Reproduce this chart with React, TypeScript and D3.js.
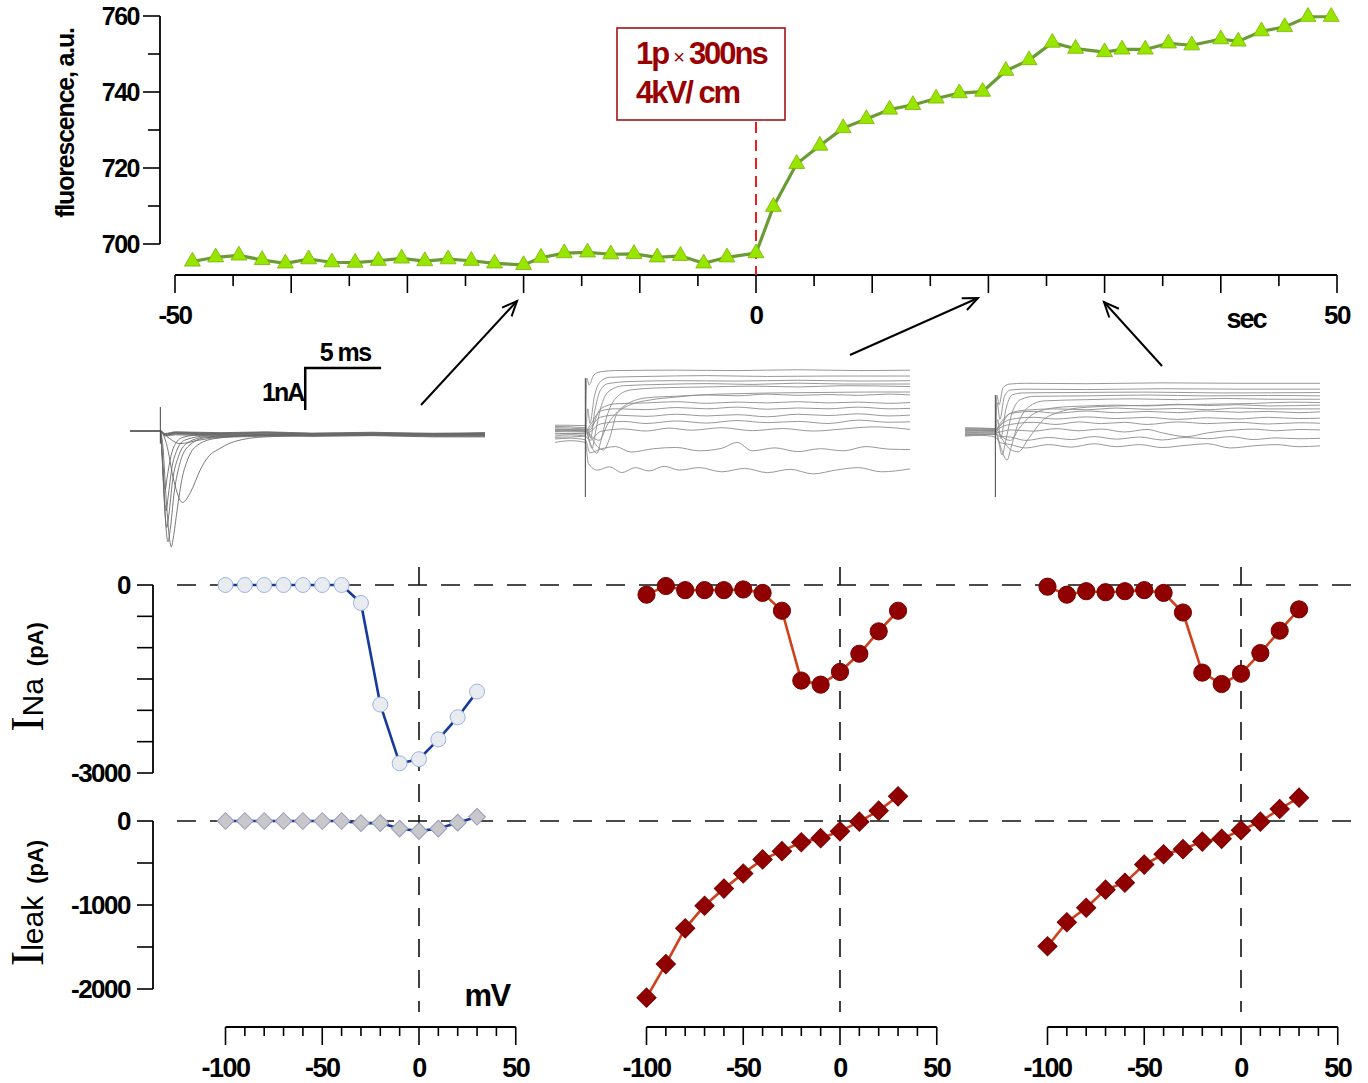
import React from 'react';
import * as d3 from 'd3';

// ---- top panel: fluorescence vs time ----
const fluoTime = [
  -48.5, -46.5, -44.5, -42.5, -40.5, -38.5, -36.5, -34.5, -32.5, -30.5, -28.5, -26.5, -24.5, -22.5,
  -20, -18.5, -16.5, -14.5, -12.5, -10.5, -8.5, -6.5, -4.5, -2.5, 0,
  1.5, 3.5, 5.5, 7.5, 9.5, 11.5, 13.5, 15.5, 17.5, 19.5, 21.5, 23.5, 25.5, 27.5,
  30, 31.5, 33.5, 35.5, 37.5, 40, 41.5, 43.5, 45.5, 47.5, 49.5,
];
const fluoValue = [
  695.4, 696.5, 697.0, 695.8, 694.9, 696.0, 695.2, 695.1, 695.6, 696.2, 695.5, 696.0, 695.6, 694.9,
  694.5, 696.4, 697.6, 697.8, 697.3, 697.4, 696.5, 696.9, 694.9, 696.5, 697.6,
  709.8, 721.1, 725.9, 730.5, 732.9, 735.4, 736.6, 738.3, 739.7, 740.1, 745.6, 748.4, 753.0, 751.4,
  750.5, 751.2, 751.2, 752.8, 752.3, 753.9, 753.3, 756.0, 757.1, 759.8, 759.8,
];
const fluoYTicks = [700, 710, 720, 730, 740, 750, 760];
const fluoYLabels = [700, 720, 740, 760];
const fluoXTicks = [-50, -45, -40, -35, -30, -25, -20, -15, -10, -5, 0, 5, 10, 15, 20, 25, 30, 35, 40, 45, 50];
const fluoXLabels = [-50, 0, 50];

// ---- I-V panels ----
const voltages = [-100, -90, -80, -70, -60, -50, -40, -30, -20, -10, 0, 10, 20, 30];
const inaControl = [0, 0, 0, 0, 0, 0, 0, -286, -1908, -2845, -2780, -2464, -2110, -1701];
const leakControl = [0, 0, 0, 0, 0, 0, 0, -25, -25, -90, -120, -90, -20, 50];
const inaAfter20 = [-154, -16, -82, -82, -82, -71, -126, -411, -1525, -1590, -1387, -1097, -740, -411];
const leakAfter20 = [-2103, -1703, -1278, -1009, -805, -625, -457, -359, -253, -204, -123, -8, 123, 294];
const inaAfter30 = [-27, -154, -99, -115, -99, -82, -126, -439, -1398, -1580, -1415, -1086, -729, -389];
const leakAfter30 = [-1491, -1205, -1033, -817, -735, -519, -396, -335, -245, -212, -110, -8, 143, 278];
const ivXTicks = [-100, -90, -80, -70, -60, -50, -40, -30, -20, -10, 0, 10, 20, 30, 40, 50];
const ivXLabels = [-100, -50, 0, 50];
const inaYTicks = [0, -500, -1000, -1500, -2000, -2500, -3000];
const inaYLabels = [0, -3000];
const leakYTicks = [0, -500, -1000, -1500, -2000];
const leakYLabels = [0, -1000, -2000];

// ---- current sweeps, [ms, nA] ----
type Pt = [number, number];
const sweepsControl: Pt[][] = [
  [[-2, 0.01], [0, 0.01], [0.3, -0.06], [1, -0.02], [4, -0.04], [7, -0.02], [10, -0.05], [14, -0.03], [18, -0.06], [21.4, -0.04]],
  [[-2, 0], [0, 0], [0.3, -0.08], [1, -0.04], [4, -0.06], [7, -0.05], [10, -0.07], [14, -0.05], [18, -0.08], [21.4, -0.07]],
  [[-2, -0.01], [0, -0.01], [0.3, -0.1], [1, -0.06], [4, -0.08], [7, -0.07], [10, -0.1], [14, -0.08], [18, -0.1], [21.4, -0.1]],
  [[-2, 0], [0, 0], [0.3, -0.1], [1, -0.07], [4, -0.1], [7, -0.09], [10, -0.11], [14, -0.1], [18, -0.13], [21.4, -0.12]],
  [[-2, 0.01], [0, 0.01], [0.3, -0.09], [1, -0.05], [4, -0.07], [7, -0.04], [10, -0.08], [14, -0.06], [18, -0.09], [21.4, -0.08]],
  [[-2, 0], [0, 0], [0.3, -0.07], [1, -0.03], [4, -0.05], [7, -0.03], [10, -0.06], [14, -0.04], [18, -0.07], [21.4, -0.05]],
  [[-2, 0], [0, 0], [0.3, -0.12], [1, -0.09], [4, -0.12], [7, -0.1], [10, -0.13], [14, -0.11], [18, -0.14], [21.4, -0.14]],
  [[-2, 0], [0, 0], [0.5, -0.15], [1.3, -0.3], [2.5, -0.22], [4, -0.15], [8, -0.12], [14, -0.1], [21.4, -0.12]],
  [[-2, 0], [0, 0], [0.4, -0.3], [0.9, -1.2], [1.46, -1.7], [2.0, -1.45], [2.6, -0.95], [3.0, -0.69], [4.0, -0.4], [4.9, -0.25], [6.9, -0.14], [12, -0.1], [21.4, -0.1]],
  [[-2, 0], [0, 0], [0.15, -0.3], [0.4, -1.7], [0.6, -2.55], [0.72, -2.76], [0.85, -2.55], [1.1, -1.9], [1.45, -1.1], [1.75, -0.73], [2.3, -0.38], [3.6, -0.18], [6.6, -0.1], [21.4, -0.08]],
  [[-2, 0], [0, 0], [0.12, -0.5], [0.3, -1.9], [0.5, -2.64], [0.65, -2.35], [0.9, -1.5], [1.32, -0.73], [1.8, -0.38], [3, -0.16], [8, -0.1], [21.4, -0.08]],
  [[-2, 0], [0, 0], [0.1, -0.5], [0.25, -1.6], [0.42, -2.3], [0.56, -2.0], [0.8, -1.2], [1.2, -0.6], [1.8, -0.28], [3, -0.14], [8, -0.08], [21.4, -0.07]],
  [[-2, 0], [0, 0], [0.1, -0.5], [0.22, -1.3], [0.38, -1.9], [0.52, -1.55], [0.75, -0.9], [1.1, -0.45], [1.6, -0.22], [3, -0.12], [21.4, -0.06]],
  [[-2, 0], [0, 0], [0.1, -0.4], [0.2, -1.0], [0.32, -1.4], [0.45, -1.1], [0.7, -0.6], [1.0, -0.3], [1.5, -0.15], [3, -0.08], [21.4, -0.05]],
];
const sweepsAfter20: Pt[][] = [
  [[-2, -0.2], [-1, -0.16], [0, -0.2], [0.2, -0.7], [0.8, -0.86], [1.6, -0.78], [2.4, -0.92], [3.3, -0.8], [4.2, -0.88], [5.2, -0.77], [6.2, -0.86], [7.5, -0.8], [9, -0.9], [10.5, -0.82], [12, -0.92], [13.5, -0.84], [15, -0.95], [16.5, -0.86], [18, -0.8], [19.5, -0.9], [21.4, -0.83]],
  [[-2, -0.12], [-1, -0.1], [0, -0.14], [0.3, -0.45], [1, -0.36], [2, -0.3], [3, -0.43], [4.5, -0.35], [6, -0.32], [7.5, -0.4], [9, -0.34], [10, -0.2], [11, -0.4], [12.5, -0.33], [14, -0.42], [15.5, -0.35], [17, -0.4], [18.5, -0.3], [20, -0.36], [21.4, -0.37]],
  [[-2, -0.05], [-1, -0.02], [0, -0.05], [0.3, -0.15], [1, 0.06], [2.5, 0.12], [4, 0.07], [5.5, 0.14], [7, 0.09], [9, 0.15], [11, 0.08], [13, 0.13], [15, 0.07], [17, 0.12], [19, 0.17], [21.4, 0.11]],
  [[-2, 0.02], [0, 0.0], [0.3, 0.05], [1, 0.24], [2.5, 0.3], [4, 0.25], [6, 0.31], [8, 0.26], [10, 0.32], [12, 0.27], [14, 0.3], [16, 0.25], [18, 0.33], [20, 0.28], [21.4, 0.29]],
  [[-2, 0.06], [0, 0.05], [0.3, 0.15], [1, 0.4], [2, 0.45], [4, 0.42], [6, 0.47], [8, 0.43], [10, 0.46], [12, 0.41], [14, 0.47], [16, 0.44], [18, 0.48], [20, 0.43], [21.4, 0.45]],
  [[-2, 0.1], [0, 0.08], [0.3, 0.2], [1, 0.55], [2, 0.6], [4, 0.58], [6, 0.63], [8, 0.6], [10, 0.64], [12, 0.59], [14, 0.62], [16, 0.6], [18, 0.64], [20, 0.6], [21.4, 0.61]],
  [[-2, 0.12], [0, 0.1], [0.3, 0.1], [1, 0.6], [2, 0.72], [4, 0.74], [6, 0.77], [8, 0.73], [10, 0.76], [12, 0.74], [14, 0.77], [16, 0.74], [18, 0.76], [20, 0.73], [21.4, 0.75]],
  [[-2, 0.15], [0, 0.12], [0.4, -0.05], [0.9, -0.15], [1.5, 0.25], [2.5, 0.65], [4, 0.86], [6, 0.9], [8, 0.93], [10, 0.91], [12, 0.95], [14, 0.92], [16, 0.94], [18, 0.92], [20, 0.95], [21.4, 0.93]],
  [[-2, 0.08], [0, 0.06], [0.4, -0.1], [0.8, -0.3], [1.2, -0.38], [1.6, -0.1], [2.09, 0.49], [3, 0.7], [4.28, 0.81], [6, 0.88], [7.57, 0.93], [10, 0.96], [13, 0.98], [16, 0.99], [19, 1.0], [21.4, 1.0]],
  [[-2, 0.18], [0, 0.15], [0.3, -0.2], [0.77, -0.46], [1.0, -0.2], [1.4, 0.4], [2, 0.85], [3, 1.05], [5, 1.1], [8, 1.12], [11, 1.14], [14, 1.12], [17, 1.15], [21.4, 1.13]],
  [[-2, 0.21], [0, 0.2], [0.2, -0.1], [0.44, -0.34], [0.7, 0.1], [1.0, 0.6], [1.5, 1.0], [2.5, 1.15], [5, 1.18], [8, 1.2], [11, 1.18], [14, 1.21], [17, 1.19], [21.4, 1.19]],
  [[-2, 0.0], [0, 0.02], [0.2, 0.1], [0.35, -0.1], [0.6, 0.5], [1.0, 1.05], [1.5, 1.2], [3, 1.25], [6, 1.27], [10, 1.26], [14, 1.28], [18, 1.26], [21.4, 1.27]],
  [[-2, -0.08], [0, -0.05], [0.15, 0.6], [0.3, 0.25], [0.6, 0.9], [1.0, 1.25], [1.6, 1.35], [4, 1.37], [8, 1.39], [12, 1.37], [16, 1.38], [21.4, 1.38]],
  [[-2, 0.1], [0, 0.1], [0.1, 1.33], [0.25, 1.17], [0.55, 1.4], [1.0, 1.48], [2, 1.51], [6, 1.52], [10, 1.51], [14, 1.53], [18, 1.51], [21.4, 1.52]],
];
const sweepsAfter30: Pt[][] = [
  [[-2, -0.1], [-1, -0.08], [0, -0.12], [0.3, -0.25], [1, -0.3], [2, -0.38], [3.5, -0.3], [5, -0.36], [6.5, -0.28], [8, -0.35], [9.5, -0.3], [11, -0.37], [12.5, -0.32], [14, -0.28], [15.5, -0.38], [17, -0.33], [18.5, -0.3], [20, -0.35], [21.4, -0.33]],
  [[-2, -0.08], [0, -0.06], [0.3, -0.1], [1, -0.12], [2, -0.2], [3.5, -0.13], [5, -0.18], [6.5, -0.11], [8, -0.17], [9.5, -0.12], [11, -0.19], [12.5, -0.13], [14, -0.16], [15.5, -0.11], [17, -0.18], [18.5, -0.14], [20, -0.16], [21.4, -0.15]],
  [[-2, -0.03], [0, -0.02], [0.3, 0.0], [1, 0.05], [2.5, 0.02], [4, 0.08], [5.5, 0.03], [7, 0.07], [8.5, 0.0], [10, 0.06], [11, -0.02], [12.6, -0.11], [14, -0.02], [15.5, 0.04], [17, 0.07], [18.5, 0.03], [20, 0.06], [21.4, 0.05]],
  [[-2, 0.0], [0, 0.01], [0.3, 0.1], [1, 0.18], [2.5, 0.23], [4, 0.18], [5.5, 0.24], [7, 0.2], [8.5, 0.23], [10, 0.18], [12, 0.24], [14, 0.2], [16, 0.23], [18, 0.19], [20, 0.22], [21.4, 0.21]],
  [[-2, 0.03], [0, 0.03], [0.3, 0.15], [1, 0.3], [2.5, 0.35], [4, 0.31], [6, 0.36], [8, 0.32], [10, 0.35], [12, 0.3], [14, 0.34], [16, 0.31], [18, 0.35], [20, 0.32], [21.4, 0.33]],
  [[-2, 0.05], [0, 0.04], [0.3, 0.2], [1, 0.44], [2.5, 0.49], [4, 0.45], [6, 0.5], [8, 0.46], [10, 0.49], [12, 0.46], [14, 0.5], [16, 0.47], [18, 0.49], [20, 0.46], [21.4, 0.48]],
  [[-2, 0.07], [0, 0.06], [0.3, 0.15], [1, 0.45], [2, 0.52], [4, 0.55], [6, 0.53], [8, 0.57], [10, 0.54], [12, 0.56], [14, 0.53], [16, 0.57], [18, 0.55], [21.4, 0.55]],
  [[-2, 0.09], [0, 0.08], [0.4, -0.1], [1.0, -0.2], [1.6, 0.1], [2.6, 0.45], [4, 0.58], [6, 0.62], [8, 0.64], [10, 0.62], [12, 0.66], [14, 0.63], [16, 0.65], [18, 0.62], [21.4, 0.64]],
  [[-2, 0.1], [0, 0.08], [0.5, -0.2], [1.0, -0.42], [1.51, -0.47], [2.2, -0.15], [3.16, 0.29], [4.2, 0.47], [5.4, 0.57], [8, 0.62], [10.9, 0.64], [14, 0.66], [17, 0.68], [19.5, 0.71], [21.4, 0.7]],
  [[-2, 0.02], [0, 0.04], [0.3, -0.3], [0.77, -0.67], [1.05, -0.35], [1.5, 0.2], [2.2, 0.6], [3.2, 0.74], [6, 0.77], [9, 0.79], [12, 0.77], [15, 0.8], [18, 0.78], [21.4, 0.78]],
  [[-2, -0.02], [0, 0.0], [0.2, -0.2], [0.44, -0.55], [0.75, -0.1], [1.1, 0.45], [1.7, 0.78], [2.6, 0.85], [6, 0.86], [10, 0.88], [14, 0.86], [18, 0.87], [21.4, 0.86]],
  [[-2, -0.05], [0, -0.04], [0.15, 0.3], [0.35, -0.15], [0.7, 0.55], [1.1, 0.88], [1.8, 0.93], [5, 0.94], [10, 0.95], [15, 0.93], [21.4, 0.94]],
  [[-2, 0.05], [0, 0.04], [0.12, 0.7], [0.3, 0.3], [0.6, 0.85], [1.0, 1.0], [2, 1.02], [6, 1.01], [11, 1.03], [16, 1.02], [21.4, 1.02]],
  [[-2, -0.06], [0, -0.06], [0.1, 0.88], [0.25, 0.65], [0.5, 1.05], [0.9, 1.14], [2, 1.16], [6, 1.15], [11, 1.17], [16, 1.16], [21.4, 1.16]],
];
// stimulus artifact extent [top, bottom] in nA
const artifactControl = [0.57, -0.3];
const artifactAfter20 = [1.33, -1.5];
const artifactAfter30 = [0.88, -1.55];

const W = 1368;
const H = 1083;
const SANS = "'Liberation Sans', Arial, Helvetica, sans-serif";
const SERIF = "'Liberation Serif', 'Times New Roman', serif";
const DARK_RED = '#990000';

const xF = d3.scaleLinear().domain([-50, 50]).range([175, 1337]);
const yF = d3.scaleLinear().domain([700, 760]).range([244, 16]);

const yNa = d3.scaleLinear().domain([0, -3000]).range([585, 773]);
const yLeak = d3.scaleLinear().domain([0, -2000]).range([821, 989]);

const triangle = d3.symbol(d3.symbolTriangle, 110)() as string;
const diamondS = d3.symbol(d3.symbolSquare, 140)() as string;
const diamondL = d3.symbol(d3.symbolSquare, 185)() as string;

function SweepGroup({ sweeps, artifact, x0, x1, base, color }: { sweeps: Pt[][]; artifact: number[]; x0: number; x1: number; base: number; color: string }) {
  const tx = d3.scaleLinear().domain([-2, 21.4]).range([x0, x1]);
  const iy = d3.scaleLinear().domain([0, 1]).range([base, base - 42]);
  const line = d3.line<Pt>().x(d => tx(d[0])).y(d => iy(d[1])).curve(d3.curveMonotoneX);
  return (
    <g>
      {sweeps.map((s, i) => (
        <path key={i} d={line(s) as string} fill="none" stroke={color} strokeWidth={0.9} />
      ))}
      <line x1={tx(0)} x2={tx(0)} y1={iy(artifact[0])} y2={iy(artifact[1])} stroke="#444" strokeWidth={1} />
    </g>
  );
}

function IVPanel({ x0, ina, leak, control, showY }: { x0: number; ina: number[]; leak: number[]; control: boolean; showY: boolean }) {
  const x = d3.scaleLinear().domain([-100, 50]).range([x0 - 193.5, x0 + 96.75]);
  const naLine = d3.line<number>().x((_, i) => x(voltages[i])).y(d => yNa(d));
  const leakLine = d3.line<number>().x((_, i) => x(voltages[i])).y(d => yLeak(d));
  const lineColor = control ? '#163a9c' : '#d0401a';
  const axisY = 1027;
  return (
    <g>
      <line x1={x0} x2={x0} y1={567} y2={1012} stroke="#111" strokeWidth={1.6} strokeDasharray="18 13" />
      <path d={naLine(ina) as string} fill="none" stroke={lineColor} strokeWidth={2.6} />
      <path d={leakLine(leak) as string} fill="none" stroke={lineColor} strokeWidth={2.6} />
      {ina.map((v, i) => (
        <circle key={'n' + i} cx={x(voltages[i])} cy={yNa(v)} r={control ? 7.5 : 8.6}
          fill={control ? '#e8ebf0' : '#900000'} stroke={control ? '#9fb3de' : '#7a0000'} strokeWidth={1} />
      ))}
      {leak.map((v, i) => (
        <path key={'l' + i} d={control ? diamondS : diamondL}
          transform={`translate(${x(voltages[i])},${yLeak(v)}) rotate(45)`}
          fill={control ? '#c8c8ca' : '#900000'} stroke={control ? '#9a9abd' : '#7a0000'} strokeWidth={1} />
      ))}
      <line x1={x(-100)} x2={x(50)} y1={axisY} y2={axisY} stroke="#000" strokeWidth={1.8} />
      {ivXTicks.map(t => (
        <line key={t} x1={x(t)} x2={x(t)} y1={axisY} y2={axisY + (t % 50 === 0 ? 18 : 9)} stroke="#000" strokeWidth={1.6} />
      ))}
      {ivXLabels.map(t => (
        <text key={t} x={x(t)} y={1077} textAnchor="middle" fontSize={27} fontWeight="bold" letterSpacing={-1.5}>{t}</text>
      ))}
      {showY && (
        <g>
          <line x1={153} x2={153} y1={yNa(0)} y2={yNa(-3000)} stroke="#000" strokeWidth={1.8} />
          {inaYTicks.map(v => <line key={v} x1={137} x2={153} y1={yNa(v)} y2={yNa(v)} stroke="#000" strokeWidth={1.6} />)}
          {inaYLabels.map(v => (
            <text key={v} x={130} y={yNa(v)} dy="0.36em" textAnchor="end" fontSize={26} fontWeight="bold" letterSpacing={-1.5}>{v}</text>
          ))}
          <line x1={153} x2={153} y1={yLeak(0)} y2={yLeak(-2000)} stroke="#000" strokeWidth={1.8} />
          {leakYTicks.map(v => <line key={v} x1={137} x2={153} y1={yLeak(v)} y2={yLeak(v)} stroke="#000" strokeWidth={1.6} />)}
          {leakYLabels.map(v => (
            <text key={v} x={130} y={yLeak(v)} dy="0.36em" textAnchor="end" fontSize={26} fontWeight="bold" letterSpacing={-1.5}>{v}</text>
          ))}
        </g>
      )}
    </g>
  );
}

export default function App() {
  const fluoLine = d3.line<number>().x((_, i) => xF(fluoTime[i])).y(d => yF(d));
  // scale bar lives in the control sweep coordinates
  const sbX = d3.scaleLinear().domain([-2, 21.4]).range([130, 485]);
  const sbY = d3.scaleLinear().domain([0, 1]).range([431, 389]);
  return (
    <svg width={W} height={H} style={{ position: 'absolute', left: 0, top: 0, background: '#fff' }} fontFamily={SANS}>
      <defs>
        <marker id="ah" markerUnits="userSpaceOnUse" markerWidth={20} markerHeight={16} refX={17} refY={8} orient="auto">
          <path d="M2,1.5 L17,8 L2,14.5" fill="none" stroke="#000" strokeWidth={2} />
        </marker>
      </defs>

      {/* ---- fluorescence panel ---- */}
      <line x1={160} x2={160} y1={yF(760)} y2={yF(700)} stroke="#000" strokeWidth={1.8} />
      {fluoYTicks.map(v => (
        <line key={v} x1={fluoYLabels.includes(v) ? 143 : 148} x2={160} y1={yF(v)} y2={yF(v)} stroke="#000" strokeWidth={1.6} />
      ))}
      {fluoYLabels.map(v => (
        <text key={v} x={139} y={yF(v)} dy="0.36em" textAnchor="end" fontSize={25} fontWeight="bold" letterSpacing={-1.5}>{v}</text>
      ))}
      <text transform="translate(74,123) rotate(-90)" textAnchor="middle" fontSize={25} fontWeight="bold" letterSpacing={-1.2}>fluorescence, a.u.</text>

      <line x1={xF(-50)} x2={xF(50)} y1={275} y2={275} stroke="#000" strokeWidth={1.8} />
      {fluoXTicks.map(t => (
        <line key={t} x1={xF(t)} x2={xF(t)} y1={275} y2={t % 10 === 0 ? 293 : 286} stroke="#000" strokeWidth={1.6} />
      ))}
      {fluoXLabels.map(t => (
        <text key={t} x={xF(t)} y={324} textAnchor="middle" fontSize={26} fontWeight="bold" letterSpacing={-1.5}>{t}</text>
      ))}
      <text x={1246} y={328} textAnchor="middle" fontSize={27} fontWeight="bold" letterSpacing={-2}>sec</text>

      <line x1={xF(0)} x2={xF(0)} y1={122} y2={275} stroke="#ee1c1c" strokeWidth={2} strokeDasharray="11 7" />
      <rect x={617} y={28} width={168} height={92} fill="#fff" stroke="#a31515" strokeWidth={1.6} />
      <text x={636} y={64} fill={DARK_RED} fontSize={31} fontWeight="bold" letterSpacing={-2}>
        1p<tspan dx={5} fontSize={20} fontWeight="normal" letterSpacing={0}>×</tspan><tspan dx={4}>300ns</tspan>
      </text>
      <text x={636} y={103} fill={DARK_RED} fontSize={31} fontWeight="bold" letterSpacing={-2}>4kV/ cm</text>

      <path d={fluoLine(fluoValue) as string} fill="none" stroke="#6b9b35" strokeWidth={3.2} />
      {fluoValue.map((v, i) => (
        <path key={i} d={triangle} transform={`translate(${xF(fluoTime[i])},${yF(v)})`} fill="#98e600" stroke="#78b400" strokeWidth={0.8} />
      ))}

      {/* ---- arrows to sampling times ---- */}
      <line x1={421} y1={405} x2={517} y2={301} stroke="#000" strokeWidth={2} markerEnd="url(#ah)" />
      <line x1={850} y1={355} x2={978} y2={298} stroke="#000" strokeWidth={2} markerEnd="url(#ah)" />
      <line x1={1162} y1={366} x2={1104} y2={302} stroke="#000" strokeWidth={2} markerEnd="url(#ah)" />

      {/* ---- current sweeps ---- */}
      <SweepGroup sweeps={sweepsControl} artifact={artifactControl} x0={130} x1={485} base={431} color="#6a6a6a" />
      <SweepGroup sweeps={sweepsAfter20} artifact={artifactAfter20} x0={555} x1={910} base={434} color="#8c8c8c" />
      <SweepGroup sweeps={sweepsAfter30} artifact={artifactAfter30} x0={965} x1={1320} base={432} color="#8c8c8c" />

      <path d={`M${sbX(14.55)},${sbY(1.5)} H${sbX(9.55)} V${sbY(0.5)}`} fill="none" stroke="#000" strokeWidth={2.5} />
      <text x={(sbX(9.55) + sbX(14.55)) / 2 + 2} y={361} textAnchor="middle" fontSize={25} fontWeight="bold" letterSpacing={-1.5}>5 ms</text>
      <text x={sbX(9.55) - 2} y={401} textAnchor="end" fontSize={25} fontWeight="bold" letterSpacing={-2}>1nA</text>

      {/* ---- I-V panels ---- */}
      <line x1={177} x2={1355} y1={yNa(0)} y2={yNa(0)} stroke="#111" strokeWidth={1.6} strokeDasharray="19 14" />
      <line x1={177} x2={1355} y1={yLeak(0)} y2={yLeak(0)} stroke="#111" strokeWidth={1.6} strokeDasharray="19 14" />
      <IVPanel x0={419} ina={inaControl} leak={leakControl} control={true} showY={true} />
      <IVPanel x0={840} ina={inaAfter20} leak={leakAfter20} control={false} showY={false} />
      <IVPanel x0={1241} ina={inaAfter30} leak={leakAfter30} control={false} showY={false} />

      <text transform="translate(43,677) rotate(-90)" textAnchor="middle">
        <tspan fontFamily={SERIF} fontSize={46}>I</tspan>
        <tspan fontSize={30}>Na</tspan>
        <tspan dx={12} fontSize={22} fontWeight="bold">(pA)</tspan>
      </text>
      <text transform="translate(43,903) rotate(-90)" textAnchor="middle">
        <tspan fontFamily={SERIF} fontSize={46}>I</tspan>
        <tspan fontSize={30}>leak</tspan>
        <tspan dx={12} fontSize={22} fontWeight="bold">(pA)</tspan>
      </text>
      <text x={487} y={1006} textAnchor="middle" fontSize={31} fontWeight="bold" letterSpacing={-1.5}>mV</text>
    </svg>
  );
}
